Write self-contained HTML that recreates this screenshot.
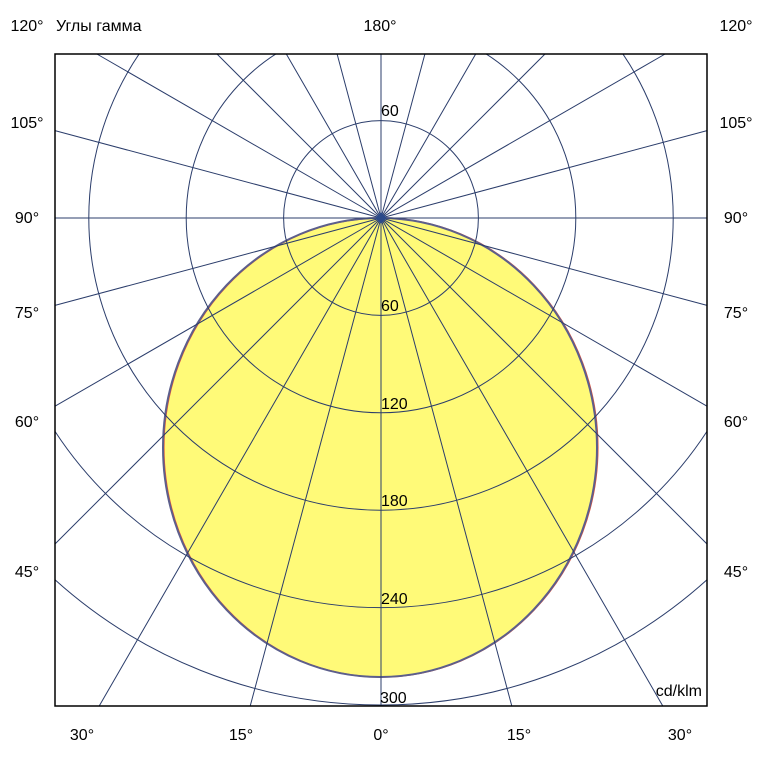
<!DOCTYPE html>
<html><head><meta charset="utf-8"><style>
html,body{margin:0;padding:0;background:#fff;width:762px;height:762px;overflow:hidden;}
svg{display:block;overflow:hidden;}
text{font-family:"Liberation Sans",Arial,sans-serif;font-size:16px;fill:#000;}
</style></head><body>
<svg width="762" height="762" viewBox="0 0 762 762" xmlns="http://www.w3.org/2000/svg">
<defs><clipPath id="c"><rect x="55" y="54" width="652" height="652"/></clipPath></defs>
<rect x="0" y="0" width="762" height="762" fill="#fff"/>
<ellipse cx="380" cy="447.5" rx="217" ry="229.5" fill="#fffa78"/>
<ellipse cx="380.8" cy="447.5" rx="217" ry="229.5" fill="none" stroke="#e0503a" stroke-width="1.5"/>
<ellipse cx="380" cy="447.5" rx="217" ry="229.5" fill="none" stroke="#5c5f8c" stroke-width="2"/>
<g stroke="#2b3d6b" stroke-width="1" fill="none">
<circle cx="381" cy="218" r="97.4"/>
<circle cx="381" cy="218" r="194.8" clip-path="url(#c)"/>
<circle cx="381" cy="218" r="292.2" clip-path="url(#c)"/>
<path d="M55,431.4 A389.6 389.6 0 0 0 707,431.4"/>
<path d="M55,579.8 A487 487 0 0 0 707,579.8"/>
<path d="M381,218 L381,706 M381,218 L511.8,706 M381,218 L250.2,706 M381,218 L662.8,706 M381,218 L99.2,706
M381,218 L707,544 M381,218 L55,544 M381,218 L707,406.2 M381,218 L55,406.2 M381,218 L707,305.4 M381,218 L55,305.4
M381,218 L707,218 M381,218 L55,218 M381,218 L707,130.6 M381,218 L55,130.6
M381,218 L665.1,54 M381,218 L96.9,54 M381,218 L545,54 M381,218 L217,54 M381,218 L475.7,54 M381,218 L286.3,54
M381,218 L424.9,54 M381,218 L337.1,54 M381,218 L381,54"/>
</g>
<polygon points="381,212 387,218 381,224 375,218" fill="#2b4a8a"/>
<rect x="55" y="54" width="652" height="652" fill="none" stroke="#000" stroke-width="1.5"/>
<g>
<text x="381" y="116">60</text>
<text x="381" y="311">60</text>
<text x="381" y="409">120</text>
<text x="381" y="506">180</text>
<text x="381" y="604">240</text>
<text x="380" y="703">300</text>
<text x="702" y="696" text-anchor="end">cd/klm</text>
<text x="56" y="31">Углы гамма</text>
<text x="380" y="31" text-anchor="middle">180°</text>
</g>
<g text-anchor="middle">
<text x="27" y="31">120°</text>
<text x="27" y="128">105°</text>
<text x="27" y="223">90°</text>
<text x="27" y="318">75°</text>
<text x="27" y="427">60°</text>
<text x="27" y="577">45°</text>
<text x="736" y="31">120°</text>
<text x="736" y="128">105°</text>
<text x="736" y="223">90°</text>
<text x="736" y="318">75°</text>
<text x="736" y="427">60°</text>
<text x="736" y="577">45°</text>
<text x="82" y="740">30°</text>
<text x="241" y="740">15°</text>
<text x="381" y="740">0°</text>
<text x="519" y="740">15°</text>
<text x="680" y="740">30°</text>
</g>
</svg>
</body></html>
